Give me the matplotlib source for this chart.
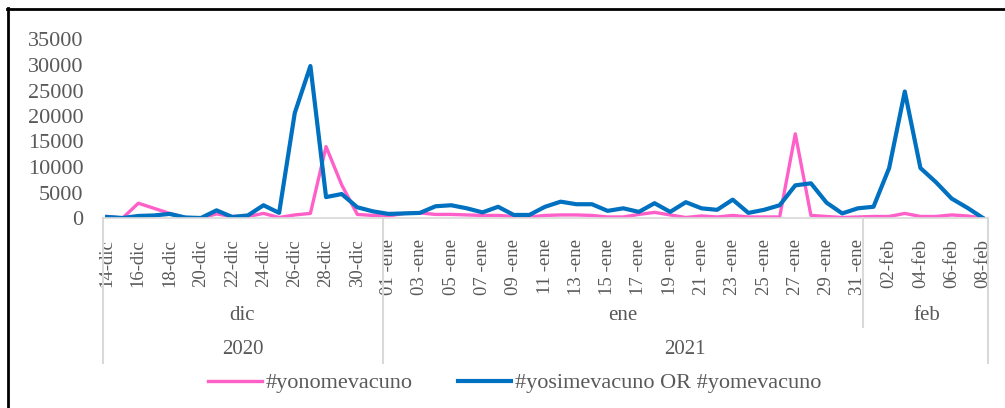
import matplotlib.pyplot as plt
from matplotlib.lines import Line2D

plt.rcParams['font.family'] = ['Liberation Serif', 'DejaVu Serif']

# fechas diarias 14-dic-2020 .. 08-feb-2021
dias_dic = list(range(14, 32))
dias_ene = list(range(1, 32))
dias_feb = list(range(1, 9))
fechas = ([f"{d:02d}-dic" for d in dias_dic] +
          [f"{d:02d} -ene" for d in dias_ene] +
          [f"{d:02d}-feb" for d in dias_feb])

yonomevacuno = [
    300, 0, 2900, 1900, 900, 100, 0, 800, 300, 300, 900, 100, 600, 900, 14000, 6500, 700, 500,
    400, 900, 1000, 700, 700, 600, 500, 500, 300, 200, 500, 600, 600, 500, 200, 200,
    700, 1100, 600, 100, 400, 200, 500, 200, 200, 200, 16500, 500, 300, 100, 200,
    300, 300, 900, 300, 300, 600, 400, 0,
]
yosimevacuno = [
    200, 0, 400, 500, 800, 100, 0, 1500, 200, 500, 2500, 1000, 20600, 29800, 4100, 4700, 2100, 1300,
    800, 900, 1000, 2300, 2500, 1900, 1100, 2200, 600, 600, 2200, 3200, 2700, 2700, 1400, 1900,
    1200, 2900, 1200, 3100, 1900, 1600, 3600, 1000, 1600, 2500, 6400, 6800, 3000, 900, 1900,
    2200, 9800, 24800, 9800, 7000, 3800, 2000, 0,
]
meses = ['dic', 'ene', 'feb']
anios = ['2020', '2021']

GRIS = '#595959'
LINEA = '#d9d9d9'

fig = plt.figure(figsize=(10.05, 4.08), dpi=100)
ax = fig.add_axes([103 / 1005, 1 - 218 / 408, 885 / 1005, 178.5 / 408])

x = list(range(len(fechas)))
ax.plot(x, yonomevacuno, color='#ff5fc8', linewidth=2.4, label='#yonomevacuno',
        solid_joinstyle='round')
ax.plot(x, yosimevacuno, color='#0070c0', linewidth=3.0, label='#yosimevacuno OR #yomevacuno',
        solid_joinstyle='round')

ax.set_xlim(-0.26, 56.32)
ax.set_ylim(0, 35000)
ax.set_yticks(range(0, 35001, 5000))
ax.tick_params(axis='y', length=0, pad=14, labelsize=16, labelcolor=GRIS)
ax.set_xticks(x[::2])
ax.set_xticklabels(fechas[::2], rotation=90, fontsize=13.5, color=GRIS,
                   ha='center', va='top')
ax.tick_params(axis='x', length=0, pad=15)
for s in ['top', 'right', 'left']:
    ax.spines[s].set_visible(False)
ax.spines['bottom'].set_color(LINEA)
ax.spines['bottom'].set_linewidth(1.2)

# ejes de categorias (mes / anio)
def fx(px):
    return px / 1005


def fy(py):
    return 1 - py / 408


for px, bottom in [(103, 363), (383, 363), (863, 327), (988, 363)]:
    fig.add_artist(Line2D([fx(px), fx(px)], [fy(218), fy(bottom)], color=LINEA, lw=1.5))

for txt, px in zip(meses, [242, 623, 927]):
    fig.text(fx(px), fy(315), txt, ha='center', va='center', fontsize=15, color=GRIS)
for txt, px in zip(anios, [243, 685]):
    fig.text(fx(px), fy(350), txt, ha='center', va='center', fontsize=15, color=GRIS)

fig.legend(loc='center', bbox_to_anchor=(fx(515), fy(383)), ncol=2, frameon=False,
           fontsize=16, handlelength=2.4, handletextpad=0.2, columnspacing=2.0,
           labelcolor=GRIS)

# marco exterior
fig.add_artist(Line2D([fx(7), fx(1005)], [fy(8.5), fy(8.5)], color='black', lw=2))
fig.add_artist(Line2D([fx(7.5), fx(7.5)], [fy(8), fy(408)], color='black', lw=2))

fig.savefig('out.png', dpi=100)
